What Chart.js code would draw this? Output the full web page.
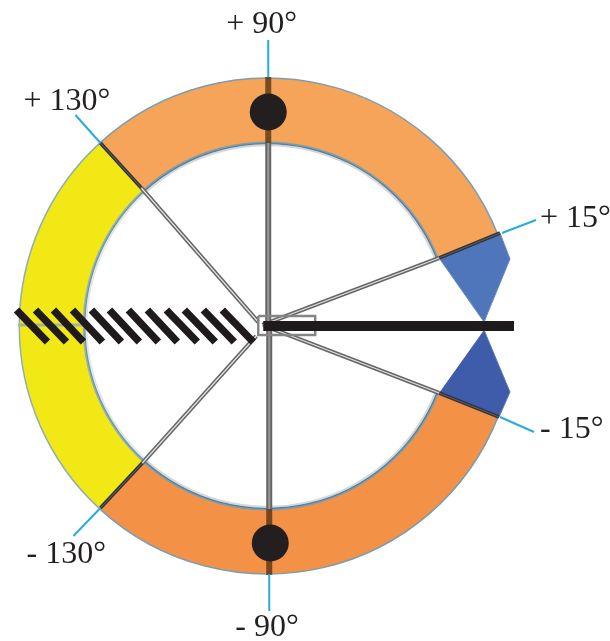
<!DOCTYPE html>
<html>
<head>
<meta charset="utf-8">
<style>
  html, body { margin: 0; background: #fff; }
  canvas { display: block; }
</style>
<script src="https://cdn.jsdelivr.net/npm/chart.js@4"></script>
</head>
<body>
<canvas id="dial" width="610" height="641"></canvas>
<script>
// ring slices in degrees, clockwise from the right hand gap
const sliceNames = ["gap", "lower orange", "yellow", "upper orange"];
const sliceSpans = [43, 111, 95, 111];

// everything below is in units from the dial centre, y up
const spokeEndsX = [233, 1, -167, -167, 2, 232];
const spokeEndsY = [93, 249, 183, -182, -249, -91];
const spokeInnerX = [172, 1, -126, -125, 2, 172];
const spokeInnerY = [68, 183, 138, -137, -183, -67];
const spokeHubX = [-5, 1, -9, -11, 2, 3];
const spokeHubY = [1, 0, 4, -10, 0, -2];

const blueTopX = [233, 243, 217, 172];
const blueTopY = [93, 67, 4, 68];
const blueBottomX = [172, 232, 243, 217];
const blueBottomY = [-67, -91, -66, -4];

const hatchTopX = [-251, -232, -214, -195, -176, -158, -139, -120, -101, -83, -64, -45];
const hatchBottomX = [-220, -201, -184, -165, -146, -128, -109, -90, -70, -52, -33, -14];

const markerX = [1, 3];
const markerY = [214, -217];

const tickLabels = ["+ 90°", "+ 130°", "+ 15°", "- 15°", "- 130°", "- 90°"];
const leaderFromX = [1, -167, 235, 233, -167, 2];
const leaderFromY = [249, 183, 93, -91, -182, -248];
const leaderToX = [1, -192, 269, 267, -194, 2];
const leaderToY = [286, 211, 106, -106, -210, -285];
const labelX = [-41, -244, 273, 273, -241, -32];
const labelY = [293, 216, 99, -112, -237, -310];

const line = (xs, ys) => xs.map((x, i) => ({ x, y: ys[i] }));
// weight 0 keeps these out of the doughnut's ring thickness
const base = { type: "scatter", showLine: true, pointRadius: 0, clip: false, tension: 0, weight: 0 };
const NONE = "rgba(0,0,0,0)";

const ring = {
  type: "doughnut",
  data: sliceSpans,
  labels: sliceNames,
  rotation: 68.5,
  cutout: "72.5%",
  order: 20
};

const datasets = [{
  ...ring,
  weight: 65,
  backgroundColor: [NONE, "#f39246", "#f2e815", "#f6a45a"],
  borderColor: [NONE, "#7c9db0", "#8fb0b0", "#7c9db0"],
  borderWidth: 1.5
}, {
  // blue-grey inner edge of the ring
  ...ring,
  weight: 2,
  backgroundColor: [NONE, "#55809c", "#6f96a6", "#55809c"],
  borderWidth: 0
}, {
  // soft halo just inside it
  ...ring,
  weight: 2,
  backgroundColor: [NONE, "rgba(110,110,110,0.28)", "rgba(110,130,140,0.2)", "rgba(110,110,110,0.28)"],
  borderWidth: 0
}, {
  ...base,
  data: line(blueTopX, blueTopY),
  fill: "shape",
  backgroundColor: "#4f76ba",
  borderColor: "#6b8eb5",
  borderWidth: 1,
  order: 15
}, {
  ...base,
  data: line(blueBottomX, blueBottomY),
  fill: "shape",
  backgroundColor: "#3f5caa",
  borderColor: "#5d7ea8",
  borderWidth: 1,
  order: 15
}];

// spokes: grey with a pale core inside the ring, dark where they cross it
spokeEndsX.forEach((x, i) => {
  const upright = x < 5 && x > -5;
  const inside = [{ x: spokeHubX[i], y: spokeHubY[i] }, { x: spokeInnerX[i], y: spokeInnerY[i] }];
  const across = [{ x: spokeInnerX[i], y: spokeInnerY[i] }, { x, y: spokeEndsY[i] }];
  datasets.push({ ...base, data: inside, borderColor: "#666", borderWidth: upright ? 6 : 4.2, order: 12 });
  datasets.push({ ...base, data: inside, borderColor: upright ? "#999" : "#e2e2e2", borderWidth: upright ? 2 : 1.2, order: 11 });
  datasets.push({
    ...base,
    data: across,
    borderColor: upright ? "rgba(70,40,10,0.72)" : "#36363c",
    borderWidth: upright ? 6 : 3.6,
    order: 12
  });
  if (!upright) datasets.push({ ...base, data: across, borderColor: "#5c5c64", borderWidth: 1, order: 11 });
});

// hub box
datasets.push({
  ...base,
  data: line([-9, 48, 48, -9, -9], [10, 10, -9, -9, 10]),
  borderColor: "#858585",
  borderWidth: 2.5,
  order: 10
});
// stub in the yellow slice
datasets.push({
  ...base,
  data: line([-249, -184], [1, 1]),
  borderColor: "#a9b0a0",
  borderWidth: 3,
  order: 10
});

hatchTopX.forEach((x, i) => {
  datasets.push({
    ...base,
    data: [{ x, y: 16 }, { x: hatchBottomX[i], y: -16 }],
    borderColor: "#1f1b1c",
    borderWidth: 7.5,
    order: 3
  });
});

// the bar
datasets.push({
  ...base,
  data: line([-4, 247], [0, 0]),
  borderColor: "#1f1b1c",
  borderWidth: 10,
  order: 2
});

leaderFromX.forEach((x, i) => {
  datasets.push({
    ...base,
    data: [{ x, y: leaderFromY[i] }, { x: leaderToX[i], y: leaderToY[i] }],
    borderColor: "#29abe2",
    borderWidth: 2,
    order: 4
  });
});

datasets.push({
  type: "scatter",
  data: line(markerX, markerY),
  pointRadius: 18.5,
  pointBackgroundColor: "#231f20",
  pointBorderWidth: 0,
  weight: 0,
  order: 1
});

const textLabels = {
  id: "textLabels",
  afterDraw(chart) {
    const { ctx, scales } = chart;
    ctx.save();
    ctx.font = "32px 'Liberation Serif'";
    ctx.fillStyle = "#231f20";
    ctx.textBaseline = "alphabetic";
    tickLabels.forEach((t, i) => {
      ctx.fillText(t, scales.x.getPixelForValue(labelX[i]), scales.y.getPixelForValue(labelY[i]));
    });
    ctx.restore();
  }
};

new Chart(document.getElementById("dial"), {
  type: "scatter",
  data: { datasets },
  options: {
    responsive: false,
    animation: false,
    layout: { padding: { left: 18, top: 77, right: 94, bottom: 66 } },
    scales: {
      x: { type: "linear", min: -249, max: 249, display: false },
      y: { type: "linear", min: -249, max: 249, display: false }
    },
    plugins: { legend: { display: false }, tooltip: { enabled: false } }
  },
  plugins: [textLabels]
});
</script>
</body>
</html>
